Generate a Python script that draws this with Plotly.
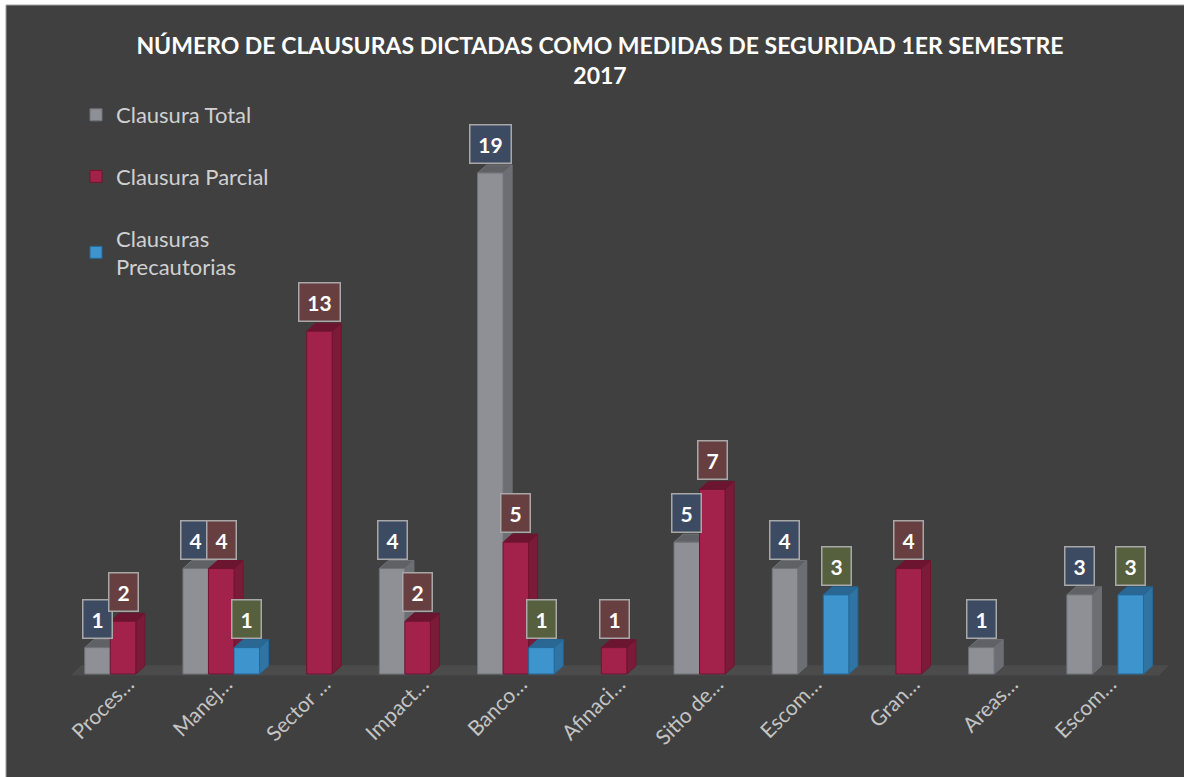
import plotly.graph_objects as go

categories = ["Proces…", "Manej…", "Sector …", "Impact…", "Banco…", "Afinaci…",
              "Sitio de…", "Escom…", "Gran…", "Areas…", "Escom…"]
total = [1, 4, 0, 4, 19, 0, 5, 4, 0, 1, 3]
parcial = [2, 4, 13, 2, 5, 1, 7, 0, 4, 0, 0]
precautorias = [0, 1, 0, 0, 1, 0, 0, 3, 0, 0, 3]
series_names = ["Clausura Total", "Clausura Parcial", "Clausuras<br>Precautorias"]

W, H = 1184, 777
BG = "#404040"
front = ["#8e9096", "#a3224b", "#3e95ce"]
side = ["#6c6e73", "#7c1a39", "#2f74a3"]
top = ["#5f6165", "#6c1531", "#2a6893"]
outline = ["#707277", "#6e1532", "#25699a"]
boxbg = ["#3d4b62", "#673f40", "#56603f"]

# layout geometry
l, r, t, b = 69, 15, 100, 98
xmin, xmax = -0.55, 10.65
pw = W - l - r
ph = H - t - b
px_x = pw / (xmax - xmin)
px_y = 26.37
ymin = -(H - b - 674) / px_y
ymax = ymin + ph / px_y

bargap = 0.22
bw = (1 - bargap) / 3
offsets = [-bw, 0, bw]
dx = 9 / px_x
dy = 8 / px_y

fig = go.Figure()
data = [total, parcial, precautorias]
xs = list(range(len(categories)))
for k, vals in enumerate(data):
    fig.add_trace(go.Bar(
        x=xs, y=[v if v else None for v in vals], name=series_names[k],
        legendgroup=f"g{k}",
        marker=dict(color=front[k], line=dict(color=outline[k], width=1)),
        hoverinfo="skip",
    ))

shapes = []
# floor
fl, fr = -0.53, 10.55
shapes.append(dict(type="path", xref="x", yref="y", layer="below",
                   path=f"M{fl},{-0.06} L{fr},{-0.06} L{fr+dx*1.1},{dy*1.1} L{fl+dx*1.1},{dy*1.1} Z",
                   fillcolor="#4b4b4b", line=dict(width=0)))
annotations = []
for k, vals in enumerate(data):
    for i, v in enumerate(vals):
        if not v:
            continue
        xc = i + offsets[k]
        xl, xr = xc - bw / 2, xc + bw / 2
        # side face
        shapes.append(dict(type="path", xref="x", yref="y", layer="below",
                           path=f"M{xr},0 L{xr+dx},{dy} L{xr+dx},{v+dy} L{xr},{v} Z",
                           fillcolor=side[k], line=dict(color=outline[k], width=1)))
        # top face
        shapes.append(dict(type="path", xref="x", yref="y", layer="below",
                           path=f"M{xl},{v} L{xl+dx},{v+dy} L{xr+dx},{v+dy} L{xr},{v} Z",
                           fillcolor=top[k], line=dict(color=outline[k], width=1)))
        annotations.append(dict(
            x=xc, y=v, xref="x", yref="y", text=f"<b>{v}</b>", showarrow=False,
            xanchor="center", yanchor="bottom", yshift=9,
            font=dict(family="Lato", size=21, color="white"),
            bgcolor=boxbg[k], bordercolor="#a8a8a8", borderwidth=1.5, borderpad=0,
            width=28 if v < 10 else 40, height=37,
        ))

# outer frame: white margin on left/top, dark panel
def px2paper_x(p):
    return (p - l) / pw

def px2paper_y(p):
    return (H - b - p) / ph

shapes.insert(0, dict(type="rect", xref="paper", yref="paper", layer="below",
                      x0=px2paper_x(6), x1=px2paper_x(W + 5), y0=px2paper_y(5), y1=px2paper_y(H + 5),
                      fillcolor=BG, line=dict(color="#a0a0a0", width=1)))

fig.update_layout(
    width=W, height=H,
    paper_bgcolor="white", plot_bgcolor="rgba(0,0,0,0)",
    margin=dict(l=l, r=r, t=t, b=b),
    barmode="group", bargap=bargap, bargroupgap=0,
    title=dict(text="NÚMERO DE CLAUSURAS DICTADAS COMO MEDIDAS DE SEGURIDAD 1ER SEMESTRE<br>2017",
               x=600 / W, xanchor="center", xref="container",
               y=1 - 54 / H, yanchor="top", yref="container",
               font=dict(family="Lato", size=23, color="white", weight="bold")),
    xaxis=dict(range=[xmin, xmax], tickmode="array", tickvals=xs, ticktext=categories,
               tickangle=-45, showgrid=False, zeroline=False, showline=False, ticks="",
               ticklabelstandoff=-12, ticklabelshift=5,
               tickfont=dict(family="Lato", size=21, color="#c4c4c4")),
    yaxis=dict(range=[ymin, ymax], visible=False, showgrid=False, zeroline=False),
    legend=dict(x=px2paper_x(76), y=px2paper_y(94), xanchor="left", yanchor="top",
                xref="paper", yref="paper", bgcolor="rgba(0,0,0,0)",
                font=dict(family="Lato", size=22, color="#d0d0d0"),
                tracegroupgap=30, traceorder="grouped", itemclick=False),
    shapes=shapes, annotations=annotations,
)

fig.write_html("out.html", config={"displayModeBar": False},
               post_script="document.body.style.margin='0';")
